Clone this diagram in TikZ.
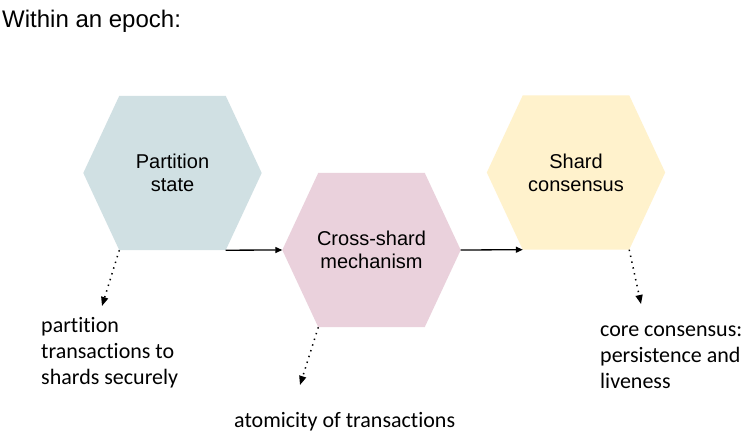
\documentclass[tikz,border=0pt]{standalone}
\usepackage{fontspec}
\setmainfont{Liberation Sans}
\newfontfamily\lblfont[Ligatures={NoCommon}]{Carlito}
\usetikzlibrary{arrows.meta,backgrounds}
\definecolor{hexblue}{HTML}{D0E0E3}
\definecolor{hexpink}{HTML}{EAD1DC}
\definecolor{hexyellow}{HTML}{FFF2CC}
\tikzset{
  hextext/.style={align=center, font=\fontsize{20}{23}\selectfont, inner sep=0pt,
    minimum width=178pt, minimum height=154pt},
  flow/.style={line width=1.3pt, -{Triangle[length=7pt,width=6pt]}},
  note/.style={line width=1.5pt, dash pattern=on 1.4pt off 4.6pt,
    -{Triangle[length=9pt,width=7pt]}},
  lbl/.style={align=left, font=\lblfont\fontsize{22}{26}\selectfont,
    inner sep=0pt, anchor=base west},
}
\newcommand\hexfill[2]{\fill[#2] (#1.west) -- ([xshift=36pt]#1.north west)
  -- ([xshift=-36pt]#1.north east) -- (#1.east) -- ([xshift=-36pt]#1.south east)
  -- ([xshift=36pt]#1.south west) -- cycle;}
\begin{document}
\begin{tikzpicture}[x=1pt,y=-1pt]
\useasboundingbox (0,0) rectangle (752,438);
\node[font=\fontsize{24}{27}\selectfont, inner sep=0pt, anchor=base west] (title) at (2,28) {Within an epoch:};
\node[hextext] (h1) at (172.5,173) {Partition\\state};
\node[hextext] (h2) at (371.5,250) {Cross-shard\\mechanism};
\node[hextext] (h3) at (576,172.5) {Shard\\consensus};
\begin{scope}[on background layer]
  \fill[white] (0,0) rectangle (752,438);
  \hexfill{h1}{hexblue}
  \hexfill{h2}{hexpink}
  \hexfill{h3}{hexyellow}
\end{scope}
\draw[flow] ([xshift=-36pt]h1.south east) -- (h2.west);
\draw[flow] (h2.east) -- ([xshift=36pt]h3.south west);
\coordinate (d1) at (102,306);
\coordinate (d2) at (300,385);
\coordinate (d3) at (641,304);
\draw[note] ([xshift=36pt]h1.south west) -- (d1);
\draw[note] ([xshift=36pt]h2.south west) -- (d2);
\draw[note] ([xshift=-36pt]h3.south east) -- (d3);
\node[lbl] (l1) at (41,384) {partition\\transactions to\\shards securely};
\node[lbl] (l2) at (234,427) {atomicity of transactions};
\node[lbl] (l3) at (600,388) {core consensus:\\persistence and\\liveness};
\end{tikzpicture}
\end{document}
